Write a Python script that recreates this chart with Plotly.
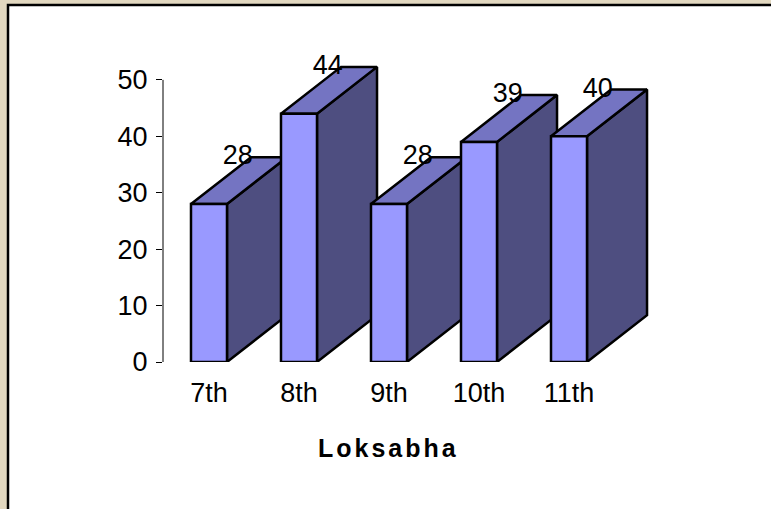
import plotly.graph_objects as go

categories = ["7th", "8th", "9th", "10th", "11th"]
values = [28, 44, 28, 39, 40]
y_ticks = [0, 10, 20, 30, 40, 50]
axis_title = "Loksabha"

FONT = "Arial, Liberation Sans, sans-serif"
FRONT = "#9999FF"
SIDE = "#4E4E80"
TOP = "#7474C2"

# geometry (data units)
HW = 0.2      # half width of the front face
DX = 0.667    # depth offset along x
DY = 8.3      # depth offset along y

L, R, T, B = 163, 112, 46, 147
W, H = 771, 509
XR = [-0.511, 5.0]
YR = [0, 56]
pw = W - L - R
ph = H - T - B

def px2paper_x(px):
    return (px - L) / pw

def px2paper_y(py):
    return (H - B - py) / ph

xs = list(range(len(categories)))

side_x, side_y, top_x, top_y, front_x, front_y = [], [], [], [], [], []
for i, v in zip(xs, values):
    x0, x1 = i - HW, i + HW
    side_x += [x1, x1 + DX, x1 + DX, x1, x1, None]
    side_y += [0, DY, v + DY, v, 0, None]
    top_x += [x0, x1, x1 + DX, x0 + DX, x0, None]
    top_y += [v, v, v + DY, v + DY, v, None]
    front_x += [x0, x1, x1, x0, x0, None]
    front_y += [0, 0, v, v, 0, None]

fig = go.Figure()
for fx, fy, col in [(side_x, side_y, SIDE), (top_x, top_y, TOP), (front_x, front_y, FRONT)]:
    fig.add_trace(go.Scatter(
        x=fx, y=fy, mode="lines", fill="toself", fillcolor=col,
        line=dict(color="black", width=2.5), hoverinfo="skip", showlegend=False,
    ))

fig.add_trace(go.Scatter(
    x=[i + 0.32 for i in xs], y=[v + 8.2 for v in values],
    mode="text", text=[str(v) for v in values], textposition="middle center",
    textfont=dict(family=FONT, size=27, color="black"),
    hoverinfo="skip", showlegend=False, cliponaxis=False,
))

fig.update_layout(
    width=W, height=H,
    margin=dict(l=L, r=R, t=T, b=B, pad=0),
    paper_bgcolor="#E2D8C0",
    plot_bgcolor="white",
    font=dict(family=FONT, size=27, color="black"),
    showlegend=False,
    xaxis=dict(
        range=XR, tickmode="array", tickvals=xs, ticktext=categories,
        showgrid=False, zeroline=False, showline=False, ticks="",
        ticklabelstandoff=12, tickfont=dict(size=27, family=FONT),
    ),
    yaxis=dict(
        range=YR, tickmode="array", tickvals=y_ticks,
        showgrid=False, zeroline=False, showline=False,
        ticks="outside", ticklen=6, tickwidth=1, tickcolor="black",
        ticklabelstandoff=3, tickfont=dict(size=27, family=FONT),
    ),
    shapes=[
        dict(type="rect", xref="paper", yref="paper",
             x0=px2paper_x(8), x1=px2paper_x(800), y0=px2paper_y(5), y1=px2paper_y(540),
             fillcolor="white", line=dict(color="black", width=2.5), layer="below"),
        dict(type="line", xref="paper", yref="y", x0=0, x1=0, y0=0, y1=50,
             line=dict(color="black", width=1)),
    ],
    annotations=[
        dict(text="<b>" + axis_title + "</b>", xref="x", yref="paper", x=2, y=0,
             yanchor="middle", yshift=-86, xshift=0, showarrow=False,
             font=dict(family=FONT, size=25, color="black")),
    ],
)

post = """
document.body.style.margin = '0';
document.body.style.overflow = 'hidden';
document.querySelectorAll('.annotation-text').forEach(function(t){ t.style.letterSpacing = '3px'; });
"""
fig.write_html("out.html", post_script=post, config={"displayModeBar": False})
